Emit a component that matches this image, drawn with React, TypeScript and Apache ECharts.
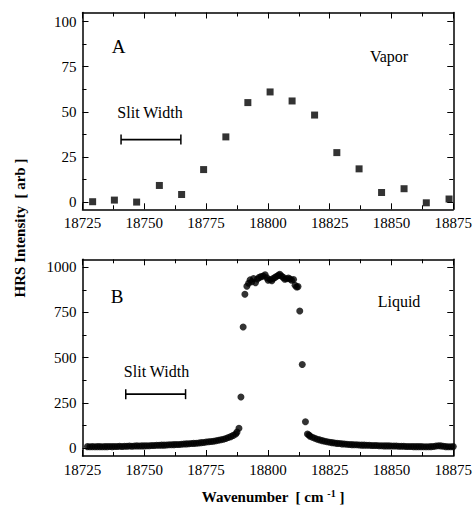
import React, { useEffect, useRef } from 'react';
import * as echarts from 'echarts';

const FONT = 'Liberation Serif';

// X axis range and ticks
const X_MIN = 18725;
const X_MAX = 18875;
const X_INTERVAL = 25;

// Panel A (vapor)
const vaporX = [18729.1, 18737.9, 18746.9, 18756.1, 18765.1, 18774.0, 18783.0, 18791.9, 18800.9, 18809.8, 18818.9, 18827.9, 18836.9, 18846.0, 18855.1, 18864.1, 18873.3];
const vaporY = [0.2, 1.1, 0, 9.2, 4.2, 18.0, 36.1, 55.1, 61.0, 56.0, 48.2, 27.4, 18.4, 5.3, 7.4, -0.4, 1.7];
const aMin = -4;
const aMax = 105;
const aTicks = [0, 25, 50, 75, 100];
const aMinorTicks = [12.5, 37.5, 62.5, 87.5];
const slitAX = [18740.6, 18764.8];
const slitAY = 34.6;

// Panel B (liquid)
const liquidLeftX = [
  18727, 18728, 18729, 18730, 18731, 18732, 18733, 18734, 18735, 18736,
  18737, 18738, 18739, 18740, 18741, 18742, 18743, 18744, 18745, 18746,
  18747, 18748, 18749, 18750, 18751, 18752, 18753, 18754, 18755, 18756,
  18757, 18758, 18759, 18760, 18761, 18762, 18763, 18764, 18765, 18766,
  18767, 18768, 18769, 18770, 18771, 18772, 18773, 18774, 18775, 18776,
  18777, 18778, 18779, 18780, 18781, 18782, 18783, 18784, 18785, 18786,
  18787,
];
const liquidLeftY = [
  8, 7, 8, 7, 8, 8, 7, 8, 8, 9,
  8, 9, 9, 10, 9, 10, 10, 11, 10, 11,
  12, 11, 12, 12, 13, 13, 14, 14, 15, 15,
  16, 16, 17, 18, 18, 19, 20, 20, 21, 22,
  23, 24, 25, 26, 27, 28, 30, 31, 33, 35,
  36, 38, 40, 43, 46, 49, 53, 58, 63, 70,
  78,
];
const liquidPeakX = [
  18787.5, 18788.3, 18789.1, 18790.0, 18790.7, 18791.5, 18792.2, 18792.8, 18793.5, 18794.2,
  18795.0, 18795.8, 18796.5, 18797.3, 18798.1, 18798.9, 18799.6, 18800.1, 18800.9, 18801.6,
  18802.1, 18802.9, 18803.6, 18804.3, 18804.8, 18805.5, 18806.2, 18806.8, 18807.5, 18808.3,
  18809.0, 18809.6, 18810.4, 18811.0, 18811.6, 18812.2, 18812.9, 18813.9, 18815.2, 18816.0,
  18816.6,
];
const liquidPeakY = [
  88, 109, 282, 670, 851, 895, 912, 930, 920, 938,
  915, 935, 944, 948, 952, 958, 942, 928, 932, 925,
  937, 944, 950, 955, 961, 952, 944, 934, 936, 941,
  935, 928, 932, 900, 891, 893, 758, 462, 145, 78,
  72,
];
const liquidRightX = [
  18817, 18818, 18819, 18820, 18821, 18822, 18823, 18824, 18825, 18826,
  18827, 18828, 18829, 18830, 18831, 18832, 18833, 18834, 18835, 18836,
  18837, 18838, 18839, 18840, 18841, 18842, 18843, 18844, 18845, 18846,
  18847, 18848, 18849, 18850, 18851, 18852, 18853, 18854, 18855, 18856,
  18857, 18858, 18859, 18860, 18861, 18862, 18863, 18864, 18865, 18866,
  18867, 18868, 18869, 18870, 18871, 18872, 18873, 18874, 18875,
];
const liquidRightY = [
  66, 60, 54, 49, 45, 41, 38, 35, 32, 30,
  28, 26, 25, 23, 22, 21, 20, 19, 18, 18,
  17, 16, 16, 15, 15, 14, 14, 14, 13, 13,
  12, 12, 12, 11, 11, 11, 10, 10, 10, 9,
  9, 9, 8, 8, 8, 8, 7, 7, 7, 8,
  9, 11, 13, 12, 10, 8, 7, 7, 8,
];
const bMin = -44;
const bMax = 1044;
const bTicks = [0, 250, 500, 750, 1000];
const bMinorTicks = [125, 375, 625, 875];
const slitBX = [18742.5, 18766.7];
const slitBY = 298;

const zip = (xs: number[], ys: number[]) => xs.map((x, i) => [x, ys[i]]);

const black = '#000';
const labelStyle = {
  color: black,
  fontSize: 15,
  fontFamily: FONT,
  formatter: (v: number) => String(v),
};

const xAxisDef = (gridIndex: number, position: string, showLabel: boolean) => ({
  type: 'value',
  gridIndex,
  position,
  min: X_MIN,
  max: X_MAX,
  interval: X_INTERVAL,
  axisLine: { show: true, onZero: false, lineStyle: { color: black, width: 1.5 } },
  axisTick: { show: true, inside: true, length: 6, lineStyle: { color: black, width: 1 } },
  minorTick: { show: true, splitNumber: 2, length: 4, lineStyle: { color: black, width: 1 } },
  axisLabel: { show: showLabel, margin: 6, ...labelStyle },
  splitLine: { show: false },
  minorSplitLine: { show: false },
});

const yMajor = (gridIndex: number, position: string, min: number, max: number, ticks: number[], showLabel: boolean) => ({
  type: 'value',
  gridIndex,
  position,
  min,
  max,
  axisLine: { show: true, onZero: false, lineStyle: { color: black, width: 1.5 } },
  axisTick: { show: true, inside: true, length: 6, customValues: ticks, lineStyle: { color: black, width: 1 } },
  axisLabel: { show: showLabel, customValues: ticks, margin: 6, ...labelStyle },
  splitLine: { show: false },
});

const yMinor = (gridIndex: number, position: string, min: number, max: number, ticks: number[]) => ({
  type: 'value',
  gridIndex,
  position,
  min,
  max,
  axisLine: { show: false, onZero: false },
  axisTick: { show: true, inside: true, length: 4, customValues: ticks, lineStyle: { color: black, width: 1 } },
  axisLabel: { show: false },
  splitLine: { show: false },
});

const slitSeries = (xAxisIndex: number, yAxisIndex: number, xs: number[], y: number) => ({
  type: 'line',
  xAxisIndex,
  yAxisIndex,
  data: xs.map((x) => [x, y]),
  symbol: 'rect',
  symbolSize: [1.5, 10],
  showSymbol: true,
  lineStyle: { color: black, width: 1.8 },
  itemStyle: { color: black },
  silent: true,
});

const textEl = (text: string, x: number, y: number, fontSize: number, extra: any = {}) => ({
  type: 'text',
  x,
  y,
  silent: true,
  style: {
    text,
    fill: black,
    fontSize,
    fontFamily: FONT,
    fontWeight: extra.fontWeight || 'normal',
    align: 'center',
    verticalAlign: 'middle',
  },
  ...(extra.rotation ? { rotation: extra.rotation } : {}),
});

const option: any = {
  animation: false,
  backgroundColor: '#fff',
  textStyle: { fontFamily: FONT },
  grid: [
    { left: 82.5, top: 12.5, width: 371, height: 196.8 },
    { left: 82.5, top: 259.3, width: 371, height: 196.7 },
  ],
  xAxis: [
    xAxisDef(0, 'bottom', true),
    xAxisDef(0, 'top', false),
    xAxisDef(1, 'bottom', true),
    xAxisDef(1, 'top', false),
  ],
  yAxis: [
    yMajor(0, 'left', aMin, aMax, aTicks, true),
    yMinor(0, 'left', aMin, aMax, aMinorTicks),
    yMajor(0, 'right', aMin, aMax, aTicks, false),
    yMinor(0, 'right', aMin, aMax, aMinorTicks),
    yMajor(1, 'left', bMin, bMax, bTicks, true),
    yMinor(1, 'left', bMin, bMax, bMinorTicks),
    yMajor(1, 'right', bMin, bMax, bTicks, false),
    yMinor(1, 'right', bMin, bMax, bMinorTicks),
  ],
  series: [
    {
      type: 'scatter',
      xAxisIndex: 0,
      yAxisIndex: 0,
      data: zip(vaporX, vaporY),
      symbol: 'rect',
      symbolSize: 7,
      itemStyle: { color: black },
      clip: false,
    },
    slitSeries(0, 0, slitAX, slitAY),
    {
      type: 'scatter',
      xAxisIndex: 2,
      yAxisIndex: 4,
      data: [
        ...zip(liquidLeftX, liquidLeftY),
        ...zip(liquidPeakX, liquidPeakY),
        ...zip(liquidRightX, liquidRightY),
      ],
      symbol: 'circle',
      symbolSize: 7,
      itemStyle: { color: black },
      clip: false,
    },
    slitSeries(2, 4, slitBX, slitBY),
  ],
  graphic: [
    textEl('A', 118.5, 46.5, 19),
    textEl('Vapor', 389, 56, 16),
    textEl('Slit Width', 150, 112, 16),
    textEl('B', 117, 296.5, 19),
    textEl('Liquid', 399, 301.7, 16),
    textEl('Slit Width', 156.5, 371, 16),
    textEl('HRS Intensity  [ arb ]', 20, 228, 15, { fontWeight: 'bold', rotation: Math.PI / 2 }),
    {
      type: 'text',
      x: 273,
      y: 497,
      silent: true,
      style: {
        text: '{a|Wavenumber  [ cm }{s|-1}{a| ]}',
        fill: black,
        align: 'center',
        verticalAlign: 'middle',
        rich: {
          a: { fontSize: 15, fontWeight: 'bold', fontFamily: FONT, fill: black, lineHeight: 18 },
          s: { fontSize: 10, fontWeight: 'bold', fontFamily: FONT, fill: black, lineHeight: 10, verticalAlign: 'top' },
        },
      },
    },
  ],
};

export default function App() {
  const ref = useRef<HTMLDivElement>(null);
  useEffect(() => {
    const chart = echarts.init(ref.current!, null, { renderer: 'svg' });
    chart.setOption(option);
    return () => chart.dispose();
  }, []);
  return (
    <div
      ref={ref}
      style={{ position: 'fixed', left: 0, top: 0, width: 475, height: 506, background: '#fff' }}
    />
  );
}
